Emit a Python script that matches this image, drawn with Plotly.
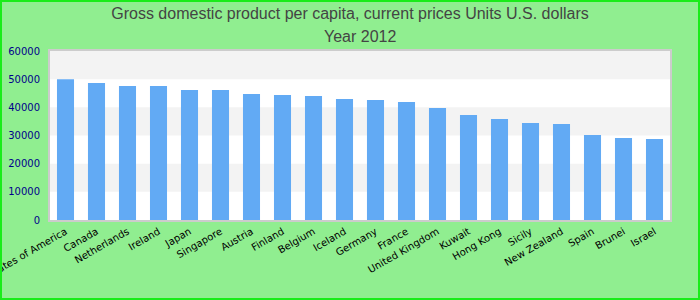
import plotly.graph_objects as go

countries = ["United States of America", "Canada", "Netherlands", "Ireland", "Japan",
             "Singapore", "Austria", "Finland", "Belgium", "Iceland", "Germany", "France",
             "United Kingdom", "Kuwait", "Hong Kong", "Sicily", "New Zealand", "Spain",
             "Brunei", "Israel"]
gdp = [49950, 48640, 47570, 47570, 46150, 46150, 44730, 44380, 44020, 42960,
       42600, 41890, 39800, 37280, 35860, 34440, 34080, 30180, 29110, 28760]
y_ticks = [0, 10000, 20000, 30000, 40000, 50000, 60000]
title_line1 = "Gross domestic product per capita, current prices Units U.S. dollars"
title_line2 = "Year 2012"

W, H = 700, 300
ML, MR, MT, MB = 50, 30, 51, 80
PW, PH = W - ML - MR, H - MT - MB
title_font = dict(family="Liberation Sans, Arial", size=16, color="#444444")

fig = go.Figure()
fig.add_trace(go.Bar(x=countries, y=gdp, marker=dict(color="#62aaf4", line=dict(width=0))))

shapes = []
for i in range(len(y_ticks) - 1):
    if i % 2 == 1:
        shapes.append(dict(type="rect", xref="paper", yref="y", x0=0, x1=1,
                           y0=y_ticks[i], y1=y_ticks[i + 1], fillcolor="#f3f3f3",
                           line=dict(width=0), layer="below"))
# page border
shapes.append(dict(type="rect", xref="paper", yref="paper",
                   x0=-ML / PW, x1=1 + MR / PW, y0=-MB / PH, y1=1 + MT / PH,
                   line=dict(color="#1aec1a", width=4), fillcolor="rgba(0,0,0,0)"))

fig.update_layout(
    width=W, height=H,
    margin=dict(l=ML, r=MR, t=MT, b=MB, autoexpand=False),
    paper_bgcolor="#90ee90", plot_bgcolor="#ffffff",
    title=dict(text=title_line1, x=0.5, xanchor="center", y=1 - 13 / H, yanchor="middle",
               font=title_font),
    annotations=[dict(text=title_line2, xref="paper", yref="paper", x=0.5 - (ML - MR) / 2 / PW * 0,
                      y=1 + (MT - 36) / PH, xanchor="center", yanchor="middle",
                      showarrow=False, font=title_font)],
    bargap=0.45,
    showlegend=False,
    shapes=shapes,
    xaxis=dict(tickangle=-30, automargin=False,
               tickfont=dict(family="DejaVu Sans", size=10, color="#000000"),
               showgrid=False, showline=True, linecolor="#cccccc", linewidth=2, mirror=True,
               fixedrange=True),
    yaxis=dict(range=[0, 60000], tickvals=y_ticks, ticktext=[str(v) for v in y_ticks],
               automargin=False,
               tickfont=dict(family="DejaVu Sans", size=10, color="#00008b"),
               showgrid=False, zeroline=False, showline=True, linecolor="#cccccc",
               linewidth=2, mirror=True, ticklabelstandoff=6),
)

fig.write_html("out.html")
